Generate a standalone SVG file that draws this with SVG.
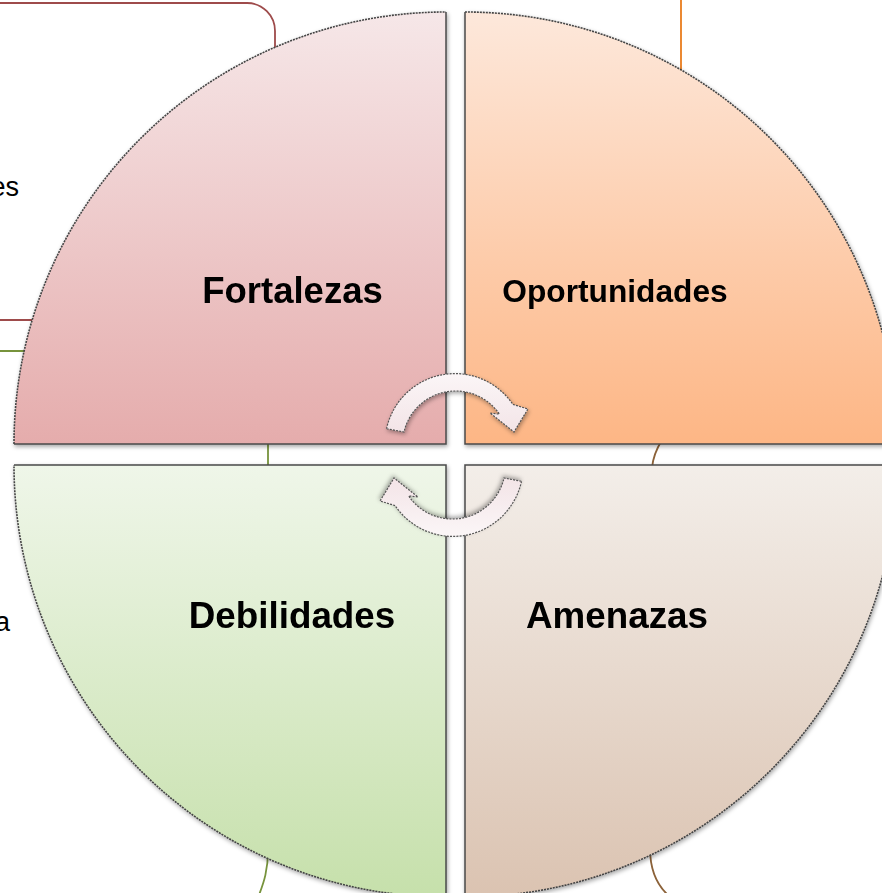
<svg xmlns="http://www.w3.org/2000/svg" width="882" height="893" viewBox="0 0 882 893">
<style>
.lbl{font-family:"Liberation Sans",Arial,sans-serif;font-weight:bold;fill:#000;text-anchor:middle}
.side{font-family:"Liberation Sans",Arial,sans-serif;fill:#000;text-anchor:end;font-size:27px}
.arc{fill:none;stroke:#444;stroke-width:1.6;stroke-dasharray:2 1}
.edge{fill:none;stroke:#4a4a4a;stroke-width:1.5}
.arrow{fill:url(#gArrow);stroke:#555;stroke-width:1.2;stroke-dasharray:2 1.2;filter:url(#sh)}
</style>
<defs>
<linearGradient id="gTL" x1="0" y1="0" x2="0" y2="1"><stop offset="0" stop-color="#f6e7e8"/><stop offset="1" stop-color="#e5acac"/></linearGradient>
<linearGradient id="gTR" x1="0" y1="0" x2="0" y2="1"><stop offset="0" stop-color="#fde8db"/><stop offset="1" stop-color="#fdb685"/></linearGradient>
<linearGradient id="gBL" x1="0" y1="0" x2="0" y2="1"><stop offset="0" stop-color="#eff6e9"/><stop offset="1" stop-color="#c6e0ab"/></linearGradient>
<linearGradient id="gBR" x1="0" y1="0" x2="0" y2="1"><stop offset="0" stop-color="#f3eee9"/><stop offset="1" stop-color="#dbc3b1"/></linearGradient>
<linearGradient id="gArrow" x1="0" y1="0" x2="0" y2="1"><stop offset="0" stop-color="#fbf6f7"/><stop offset="1" stop-color="#f3e4e7"/></linearGradient>
<filter id="sh" x="-10%" y="-10%" width="120%" height="120%"><feDropShadow dx="1" dy="2" stdDeviation="2" flood-color="#000" flood-opacity="0.35"/></filter>
</defs>

<g id="background">
  <path d="M -20,3 L 247,3 A 28 28 0 0 1 275,31 L 275,320 L -20,320" fill="none" stroke="#9e4b4b" stroke-width="1.8"/>
  <text class="side" x="19" y="196">es</text>
  <path d="M 0,351 L 268,351 L 268,470" fill="none" stroke="#77933c" stroke-width="1.8"/>
  <path d="M 268,850 C 268,870 264,882 259,895" fill="none" stroke="#77933c" stroke-width="1.8"/>
  <text class="side" x="10" y="631">a</text>
  <line x1="681" y1="0" x2="681" y2="75" stroke="#e97c1c" stroke-width="1.8"/>
  <path d="M 662,440 C 657,448 653,456 652,468" fill="none" stroke="#8c6239" stroke-width="1.8"/>
  <path d="M 650,848 C 650,870 656,884 668,895" fill="none" stroke="#8c6239" stroke-width="1.8"/>
</g>

<g id="fortalezas" filter="url(#sh)">
  <path d="M 446,444 L 14,444 A 432 432 0 0 1 446,12 Z" fill="url(#gTL)"/>
  <path class="arc" d="M 14,444 A 432 432 0 0 1 446,12"/>
  <path class="edge" d="M 446,12 L 446,444 L 14,444"/>
  <text class="lbl" x="292.5" y="303" font-size="36.5">Fortalezas</text>
</g>
<g id="oportunidades" filter="url(#sh)">
  <path d="M 465,444 L 465,12 A 432 432 0 0 1 897,444 Z" fill="url(#gTR)"/>
  <path class="arc" d="M 465,12 A 432 432 0 0 1 897,444"/>
  <path class="edge" d="M 897,444 L 465,444 L 465,12"/>
  <text class="lbl" x="615" y="302" font-size="31.7">Oportunidades</text>
</g>
<g id="debilidades" filter="url(#sh)">
  <path d="M 446,465 L 446,897 A 432 432 0 0 1 14,465 Z" fill="url(#gBL)"/>
  <path class="arc" d="M 446,897 A 432 432 0 0 1 14,465"/>
  <path class="edge" d="M 14,465 L 446,465 L 446,897"/>
  <text class="lbl" x="292" y="628" font-size="36.8">Debilidades</text>
</g>
<g id="amenazas" filter="url(#sh)">
  <path d="M 465,465 L 897,465 A 432 432 0 0 1 465,897 Z" fill="url(#gBR)"/>
  <path class="arc" d="M 897,465 A 432 432 0 0 1 465,897"/>
  <path class="edge" d="M 465,897 L 465,465 L 897,465"/>
  <text class="lbl" x="617" y="628" font-size="36.8">Amenazas</text>
</g>

<g id="connectors">
  <path id="arrow-top" class="arrow" d="M 386.5,428.7 A 70 70 0 0 1 512.9,404.4 L 528,409 L 514,432 L 490,413 L 499.4,414.1 A 53 53 0 0 0 404,432 Z"/>
  <path id="arrow-bottom" class="arrow" transform="rotate(180 454 455)" d="M 386.5,428.7 A 70 70 0 0 1 512.9,404.4 L 528,409 L 514,432 L 490,413 L 499.4,414.1 A 53 53 0 0 0 404,432 Z"/>
</g>
</svg>
